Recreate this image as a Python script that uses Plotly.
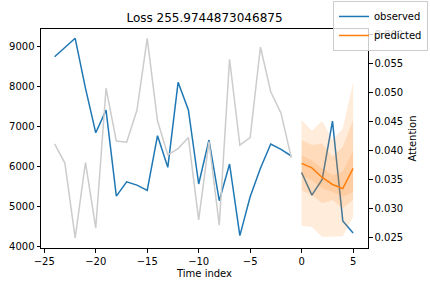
import plotly.graph_objects as go
from plotly.subplots import make_subplots

# ---- data ----
enc_index = list(range(-24, 0))
dec_index = list(range(0, 6))

obs_encoder = [8733, 8960, 9192, 7950, 6838, 7404, 5259, 5616, 5534, 5401,
               6766, 5978, 8096, 7406, 5562, 6658, 5146, 6061, 4275, 5246,
               5953, 6559, 6427, 6260]
obs_decoder = [5850, 5284, 5676, 7130, 4643, 4344]
predicted = [6075, 5965, 5725, 5551, 5451, 5950]

q_outer_hi = [7154, 6888, 7130, 6656, 6948, 8085]
q_outer_lo = [4518, 4493, 4244, 4244, 4261, 4743]
q_mid_hi = [6656, 6531, 6573, 6239, 6489, 7154]
q_mid_lo = [5409, 5284, 5084, 5159, 4960, 5159]
q_in_hi = [6282, 6157, 5957, 5783, 5865, 6406]
q_in_lo = [5783, 5658, 5459, 5366, 5242, 5366]

attention = [0.0411, 0.0378, 0.0249, 0.0379, 0.0266, 0.0507, 0.0416, 0.0414,
             0.0469, 0.0593, 0.0451, 0.0392, 0.0403, 0.0422, 0.0280, 0.0415,
             0.0271, 0.0557, 0.0409, 0.0422, 0.0578, 0.0501, 0.0464, 0.0387]

x_ticks = [-25, -20, -15, -10, -5, 0, 5]
y_ticks = [4000, 5000, 6000, 7000, 8000, 9000]
att_ticks = [0.025, 0.030, 0.035, 0.040, 0.045, 0.050, 0.055, 0.060]

title_text = "Loss 255.9744873046875"

BLUE = "#1f77b4"
ORANGE = "#ff7f0e"
BAND = "rgba(255,127,14,0.15)"
FONT = "DejaVu Sans"

fig = make_subplots(specs=[[{"secondary_y": True}]])

fig.add_trace(go.Scatter(x=enc_index, y=obs_encoder, mode="lines", name="observed",
                         line=dict(color=BLUE, width=1.5), legendgroup="obs"),
              secondary_y=False)
fig.add_trace(go.Scatter(x=dec_index, y=obs_decoder, mode="lines", name="observed",
                         line=dict(color=BLUE, width=1.5), legendgroup="obs",
                         showlegend=False),
              secondary_y=False)
fig.add_trace(go.Scatter(x=dec_index, y=predicted, mode="lines", name="predicted",
                         line=dict(color=ORANGE, width=1.5)),
              secondary_y=False)

for hi, lo in [(q_outer_hi, q_outer_lo), (q_mid_hi, q_mid_lo), (q_in_hi, q_in_lo)]:
    fig.add_trace(go.Scatter(x=dec_index, y=hi, mode="lines", line=dict(width=0),
                             showlegend=False, hoverinfo="skip"),
                  secondary_y=False)
    fig.add_trace(go.Scatter(x=dec_index, y=lo, mode="lines", line=dict(width=0),
                             fill="tonexty", fillcolor=BAND,
                             showlegend=False, hoverinfo="skip"),
                  secondary_y=False)

fig.add_trace(go.Scatter(x=enc_index, y=attention, mode="lines", showlegend=False,
                         line=dict(color="#cccccc", width=1.5)),
              secondary_y=True)

axis_common = dict(showgrid=False, zeroline=False, showline=True, linecolor="black",
                   linewidth=1, ticks="outside", ticklen=3.5, tickwidth=1,
                   tickcolor="black", automargin=False,
                   tickfont=dict(family=FONT, size=10, color="black"))

fig.update_xaxes(range=[-25.32, 6.45], tickvals=x_ticks, mirror=True, domain=[0, 1],
                 title=dict(text="Time index", font=dict(family=FONT, size=10, color="black"),
                            standoff=4),
                 **axis_common)
fig.update_yaxes(range=[3968, 9424], tickvals=y_ticks, tickformat="d",
                 secondary_y=False, **axis_common)
fig.update_yaxes(range=[0.02316, 0.06091], tickvals=att_ticks, tickformat=".3f",
                 title=dict(text="Attention", font=dict(family=FONT, size=10, color="black"),
                            standoff=6),
                 secondary_y=True, **axis_common)

fig.update_layout(
    width=430, height=286,
    margin=dict(l=41, r=62, t=29, b=38, autoexpand=False),
    paper_bgcolor="white", plot_bgcolor="white",
    font=dict(family=FONT, size=10, color="black"),
    title=dict(text=title_text, x=0.5, xref="paper", xanchor="center",
               y=1 - 18 / 286, yref="container", yanchor="middle",
               font=dict(family=FONT, size=12, color="black")),
    legend=dict(x=1.1835, xanchor="right", y=1.128, yanchor="top",
                bgcolor="rgba(255,255,255,0.8)", bordercolor="#cccccc", borderwidth=1,
                font=dict(family=FONT, size=10, color="black"),
                itemwidth=30, tracegroupgap=0),
    showlegend=True,
)

fig.write_html("out.html")
